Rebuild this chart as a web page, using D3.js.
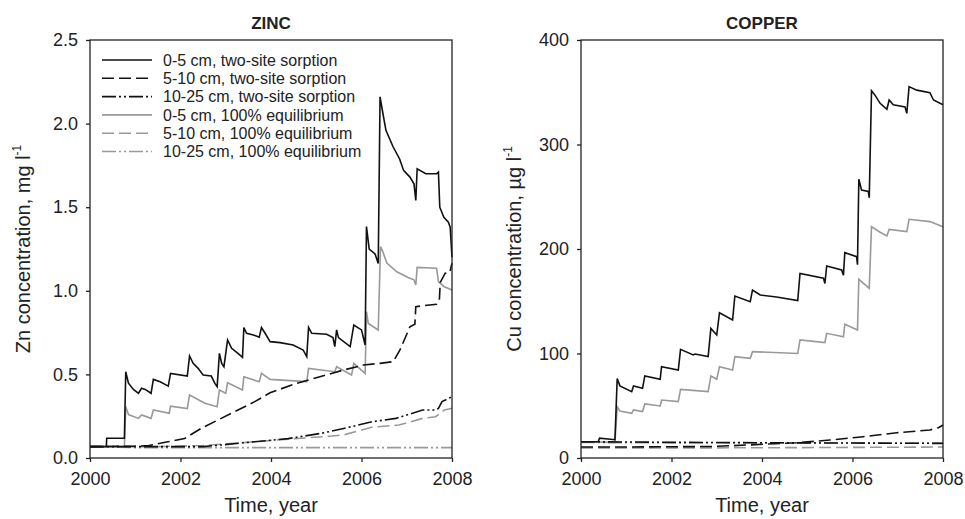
<!DOCTYPE html>
<html>
<head>
<meta charset="utf-8">
<script src="https://cdn.jsdelivr.net/npm/d3@7"></script>
<style>
  body { margin: 0; background: #fff; }
  svg { font-family: "Liberation Sans", Arial, sans-serif; }
  .axis path, .axis line { stroke: #222; stroke-width: 1.3; }
  .axis text { font-size: 18px; fill: #222; }
</style>
</head>
<body>
<script>
// ---- data: [year, concentration] ----
const years = [2000, 2002, 2004, 2006, 2008];
const znTicks = [0, 0.5, 1.0, 1.5, 2.0, 2.5];
const cuTicks = [0, 100, 200, 300, 400];

const legendLabels = [
  "0-5 cm, two-site sorption",
  "5-10 cm, two-site sorption",
  "10-25 cm, two-site sorption",
  "0-5 cm, 100% equilibrium",
  "5-10 cm, 100% equilibrium",
  "10-25 cm, 100% equilibrium"
];

// zinc, mg/l
const znTwoSite0_5 = [[2000,0.068],[2000.36,0.068],[2000.37,0.118],[2000.76,0.118],[2000.79,0.516],[2000.85,0.447],[2000.96,0.41],[2001.07,0.387],[2001.14,0.417],[2001.22,0.41],[2001.35,0.387],[2001.4,0.47],[2001.55,0.456],[2001.73,0.43],[2001.78,0.506],[2002.15,0.49],[2002.2,0.61],[2002.28,0.566],[2002.39,0.536],[2002.5,0.496],[2002.68,0.49],[2002.76,0.446],[2002.81,0.427],[2002.86,0.626],[2002.91,0.566],[2002.96,0.546],[2003.04,0.706],[2003.13,0.656],[2003.27,0.626],[2003.37,0.602],[2003.4,0.78],[2003.46,0.746],[2003.61,0.736],[2003.74,0.722],[2003.79,0.78],[2003.87,0.746],[2003.98,0.696],[2004.2,0.69],[2004.49,0.676],[2004.71,0.646],[2004.79,0.606],[2004.83,0.781],[2004.9,0.746],[2005.23,0.74],[2005.37,0.72],[2005.41,0.666],[2005.45,0.766],[2005.49,0.72],[2005.75,0.666],[2005.83,0.795],[2006.0,0.766],[2006.08,0.676],[2006.11,1.384],[2006.17,1.25],[2006.3,1.22],[2006.37,1.164],[2006.41,2.16],[2006.48,2.05],[2006.54,1.96],[2006.7,1.86],[2006.84,1.79],[2006.93,1.72],[2007.07,1.68],[2007.16,1.64],[2007.2,1.54],[2007.23,1.73],[2007.42,1.7],[2007.66,1.7],[2007.7,1.71],[2007.73,1.5],[2007.82,1.44],[2007.92,1.41],[2007.96,1.38],[2008,1.2]];
const znTwoSite5_10 = [[2000,0.068],[2001.0,0.07],[2001.3,0.075],[2001.72,0.097],[2002.09,0.116],[2002.46,0.178],[2002.9,0.237],[2003.27,0.287],[2003.64,0.337],[2003.98,0.39],[2004.57,0.447],[2005.08,0.486],[2005.6,0.526],[2006.04,0.556],[2006.41,0.566],[2006.7,0.576],[2006.85,0.646],[2007.0,0.74],[2007.07,0.785],[2007.18,0.8],[2007.2,0.905],[2007.66,0.92],[2007.72,0.94],[2007.74,1.05],[2007.85,1.105],[2007.95,1.11],[2008,1.165]];
const znTwoSite10_25 = [[2000,0.068],[2002.5,0.068],[2002.9,0.078],[2003.64,0.097],[2004.38,0.116],[2005.12,0.148],[2005.63,0.178],[2006.24,0.217],[2006.76,0.237],[2007.35,0.287],[2007.64,0.287],[2007.7,0.297],[2007.78,0.337],[2008,0.367]];
const znEquil0_5 = [[2000,0.068],[2000.76,0.068],[2000.79,0.307],[2000.85,0.26],[2001.07,0.237],[2001.14,0.257],[2001.35,0.237],[2001.4,0.287],[2001.75,0.267],[2001.78,0.31],[2002.15,0.296],[2002.2,0.377],[2002.54,0.327],[2002.81,0.307],[2002.86,0.407],[2003.0,0.387],[2003.04,0.45],[2003.37,0.407],[2003.4,0.486],[2003.74,0.456],[2003.79,0.506],[2003.98,0.47],[2004.79,0.457],[2004.83,0.536],[2005.41,0.516],[2005.45,0.546],[2005.78,0.496],[2005.83,0.566],[2006.08,0.506],[2006.11,0.875],[2006.15,0.805],[2006.37,0.766],[2006.42,1.264],[2006.47,1.235],[2006.56,1.166],[2006.78,1.114],[2007.03,1.08],[2007.16,1.066],[2007.2,1.035],[2007.23,1.14],[2007.66,1.135],[2007.7,1.055],[2007.82,1.026],[2008,1.005]];
const znEquil5_10 = [[2000,0.068],[2001.5,0.068],[2002.5,0.075],[2003.3,0.09],[2004.0,0.105],[2004.75,0.12],[2005.3,0.13],[2005.63,0.14],[2006.24,0.185],[2006.83,0.197],[2007.35,0.237],[2007.64,0.247],[2007.83,0.287],[2008,0.297]];
const znEquil10_25 = [[2000,0.068],[2001.0,0.062],[2003.0,0.062],[2008,0.062]];

// copper, µg/l
const cuTwoSite0_5 = [[2000,15.6],[2000.38,15.6],[2000.41,19],[2000.75,17.5],[2000.8,76],[2000.86,69],[2001.12,63.5],[2001.16,69],[2001.36,66.7],[2001.41,78.5],[2001.75,75.3],[2001.78,87.4],[2002.15,84.2],[2002.2,104],[2002.48,98.6],[2002.52,99.5],[2002.81,97],[2002.87,124],[2003.0,117.7],[2003.06,139],[2003.35,132],[2003.4,155],[2003.74,149.6],[2003.79,160.8],[2003.96,156],[2004.32,154],[2004.79,150.6],[2004.84,176.7],[2005.36,172],[2005.39,167],[2005.43,183.7],[2005.76,180],[2005.8,175],[2005.83,196.5],[2006.09,192.7],[2006.11,185],[2006.14,266.7],[2006.2,256.5],[2006.35,255],[2006.37,249],[2006.42,351.5],[2006.5,347],[2006.61,339.4],[2006.76,333.7],[2006.81,342.6],[2006.9,338],[2007.16,336],[2007.2,329.8],[2007.25,355.4],[2007.42,352],[2007.71,349.6],[2007.79,342.6],[2008,338]];
const cuTwoSite5_10 = [[2000,10.5],[2001.0,10.5],[2002.0,10.8],[2002.9,11],[2003.66,12.4],[2004.77,14.6],[2005.5,17.2],[2006.24,20.4],[2006.98,24.2],[2007.71,26.8],[2007.9,29],[2008,31.6]];
const cuTwoSite10_25 = [[2000,15.6],[2002,15],[2004,14.6],[2006,14.3],[2008,14]];
const cuEquil0_5 = [[2000,15.6],[2000.75,15],[2000.8,49],[2000.86,45],[2001.12,42.7],[2001.16,46],[2001.36,44.5],[2001.41,51.7],[2001.75,49.8],[2001.78,55.5],[2002.15,54],[2002.2,65.7],[2002.81,63.5],[2002.87,78.5],[2003.0,75.3],[2003.06,87.4],[2003.35,84.2],[2003.4,97],[2003.74,95.4],[2003.79,101.8],[2004.79,100],[2004.84,113],[2005.39,110.4],[2005.43,119.3],[2005.8,116],[2005.83,128],[2006.11,122.5],[2006.14,171],[2006.37,162.4],[2006.42,221.4],[2006.61,216],[2006.76,212.5],[2006.81,218.8],[2007.2,216.6],[2007.25,228.4],[2007.71,226.2],[2008,221.4]];
const cuEquil5_10 = [[2000,9.5],[2004,9.8],[2008,10.5]];
const cuEquil10_25 = [[2000,14.8],[2004,14.5],[2008,14.2]];

// ---- styles for the six series (same order as legendLabels) ----
const styles = [
  { color: "#111", dash: null },
  { color: "#111", dash: "12,5" },
  { color: "#111", dash: "14,3,2,3,2,3" },
  { color: "#999", dash: null },
  { color: "#999", dash: "12,5" },
  { color: "#999", dash: "14,3,2,3,2,3" }
];

const W = 965, H = 519;
const plotTop = 40, plotBottom = 458;

const svg = d3.select("body").append("svg")
  .attr("width", W)
  .attr("height", H);

function drawPanel(opts) {
  const x = d3.scaleLinear().domain([2000, 2008]).range([opts.left, opts.right]);
  const y = d3.scaleLinear().domain(opts.yDomain).range([plotBottom, plotTop]);
  const g = svg.append("g");

  const line = d3.line().x(d => x(d[0])).y(d => y(d[1]));

  // gray (equilibrium) under black (two-site)
  [3, 4, 5, 0, 1, 2].forEach(i => {
    g.append("path")
      .datum(opts.series[i])
      .attr("d", line)
      .attr("fill", "none")
      .attr("stroke", styles[i].color)
      .attr("stroke-width", 1.6)
      .attr("stroke-dasharray", styles[i].dash);
  });

  g.append("rect")
    .attr("x", opts.left).attr("y", plotTop)
    .attr("width", opts.right - opts.left).attr("height", plotBottom - plotTop)
    .attr("fill", "none").attr("stroke", "#222").attr("stroke-width", 1.3);

  g.append("g")
    .attr("class", "axis")
    .attr("transform", `translate(${opts.left},0)`)
    .call(d3.axisLeft(y).tickValues(opts.yTicks).tickFormat(opts.yFormat)
      .tickSize(4).tickSizeOuter(0).tickPadding(8))
    .call(a => a.select(".domain").remove());

  g.append("g")
    .attr("class", "axis")
    .attr("transform", `translate(0,${plotBottom})`)
    .call(d3.axisBottom(x).tickValues(years).tickFormat(d3.format("d"))
      .tickSize(4).tickSizeOuter(0).tickPadding(10))
    .call(a => a.select(".domain").remove());

  const cx = (opts.left + opts.right) / 2;

  g.append("text")
    .attr("x", cx).attr("y", 29)
    .attr("text-anchor", "middle")
    .attr("font-size", 17).attr("font-weight", "bold").attr("fill", "#222")
    .text(opts.title);

  g.append("text")
    .attr("x", cx).attr("y", 512)
    .attr("text-anchor", "middle")
    .attr("font-size", 20).attr("fill", "#222")
    .text("Time, year");

  const yl = g.append("text")
    .attr("transform", `translate(${opts.left - 60},${(plotTop + plotBottom) / 2}) rotate(-90)`)
    .attr("text-anchor", "middle")
    .attr("font-size", 20).attr("fill", "#222");
  yl.append("tspan").text(opts.yLabel);
  yl.append("tspan").attr("font-size", 12).attr("dy", -9).text("-1");
}

drawPanel({
  left: 90, right: 452,
  yDomain: [0, 2.5], yTicks: znTicks, yFormat: d3.format(".1f"),
  title: "ZINC", yLabel: "Zn concentration, mg l",
  series: [znTwoSite0_5, znTwoSite5_10, znTwoSite10_25, znEquil0_5, znEquil5_10, znEquil10_25]
});

drawPanel({
  left: 581, right: 943,
  yDomain: [0, 400], yTicks: cuTicks, yFormat: d3.format("d"),
  title: "COPPER", yLabel: "Cu concentration, µg l",
  series: [cuTwoSite0_5, cuTwoSite5_10, cuTwoSite10_25, cuEquil0_5, cuEquil5_10, cuEquil10_25]
});

// legend in the zinc panel
const legend = svg.append("g");
legendLabels.forEach((label, i) => {
  const ly = 60 + i * 18.3;
  legend.append("line")
    .attr("x1", 102).attr("x2", 152).attr("y1", ly).attr("y2", ly)
    .attr("stroke", styles[i].color).attr("stroke-width", 1.6)
    .attr("stroke-dasharray", styles[i].dash);
  legend.append("text")
    .attr("x", 163).attr("y", ly).attr("dy", "0.35em")
    .attr("font-size", 16).attr("fill", "#222")
    .text(label);
});
</script>
</body>
</html>
